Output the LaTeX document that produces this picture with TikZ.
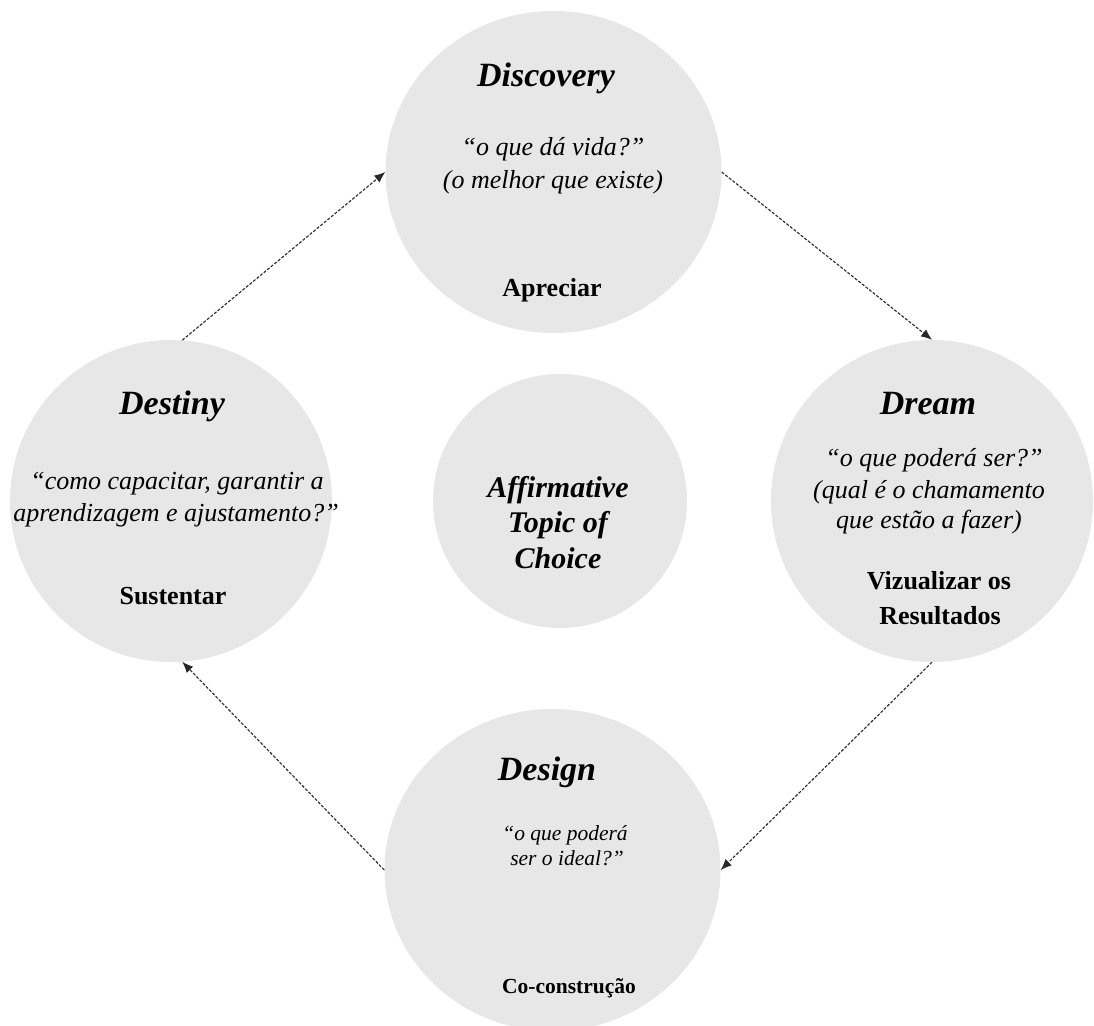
\documentclass[tikz,border=0pt]{standalone}
\usepackage{fontspec}
\setmainfont{Liberation Serif}
\usetikzlibrary{shapes.geometric,arrows.meta}
\definecolor{blobfill}{RGB}{231,231,231}
\definecolor{flowink}{RGB}{40,40,40}
\begin{document}
\begin{tikzpicture}[x=1pt,y=-1pt,
  phasecircle/.style={circle,fill=blobfill,draw=none,inner sep=0pt,minimum size=#1},
  phaseoval/.style={ellipse,fill=blobfill,draw=none,inner sep=0pt,minimum width=336pt,minimum height=322pt},
  title/.style={anchor=base,inner sep=0pt,font=\fontsize{34}{40}\selectfont\bfseries\itshape},
  hubtext/.style={anchor=base,inner sep=0pt,font=\fontsize{30}{36}\selectfont\bfseries\itshape},
  quote/.style={anchor=base,inner sep=0pt,font=\fontsize{26}{33}\selectfont\itshape},
  verb/.style={anchor=base,inner sep=0pt,font=\fontsize{26}{33}\selectfont\bfseries},
  smallquote/.style={anchor=base,inner sep=0pt,font=\fontsize{21.5}{26}\selectfont\itshape},
  smallverb/.style={anchor=base,inner sep=0pt,font=\fontsize{21.5}{26}\selectfont\bfseries},
  flow/.style={draw=flowink,line width=1.1pt,dash pattern=on 3pt off 1.6pt,
    -{Latex[length=11pt,width=9pt]}}
]
\useasboundingbox (0,0) rectangle (1094,1025);

% the five circles
\node[phaseoval] (discovery) at (553.5,172) {};
\node[phasecircle=322pt] (destiny) at (171,501) {};
\node[phasecircle=322pt] (dream) at (932,501) {};
\node[phaseoval] (design) at (552.5,870) {};
\node[phasecircle=254pt] (topic) at (560,501) {};

% Discovery
\node[title] (discT) at (546,86) {Discovery};
\node[quote] (discQa) at (553,155) {“o que dá vida?”};
\node[quote] (discQb) at (553,188) {(o melhor que existe)};
\node[verb]  (discV) at (552,296) {Apreciar};

% Destiny
\node[title] (destT) at (172,414) {Destiny};
\node[quote] (destQa) at (177,489) {“como capacitar, garantir a};
\node[quote] (destQb) at (176,521) {aprendizagem e ajustamento?”};
\node[verb]  (destV) at (173,604) {Sustentar};

% Dream
\node[title] (dreamT) at (928,414) {Dream};
\node[quote] (dreamQa) at (934,466) {“o que poderá ser?”};
\node[quote] (dreamQb) at (929,498) {(qual é o chamamento};
\node[quote] (dreamQc) at (929,528) {que estão a fazer)};
\node[verb]  (dreamVa) at (939,589) {Vizualizar os};
\node[verb]  (dreamVb) at (940,624) {Resultados};

% Design
\node[title] (desT) at (547,780) {Design};
\node[smallquote] (desQa) at (565,840) {“o que poderá};
\node[smallquote] (desQb) at (567,865) {ser o ideal?”};
\node[smallverb]  (desV) at (569,993) {Co-construção};

% hub
\node[hubtext] (hubA) at (558,497) {Affirmative};
\node[hubtext] (hubB) at (558,532) {Topic of};
\node[hubtext] (hubC) at (558,568) {Choice};

% the cycle
\draw[flow] (destiny.86) -- (discovery.west);
\draw[flow] (discovery.east) -- (dream.north);
\draw[flow] (dream.south) -- (design.east);
\draw[flow] (design.west) -- (destiny.-86);
\end{tikzpicture}
\end{document}
